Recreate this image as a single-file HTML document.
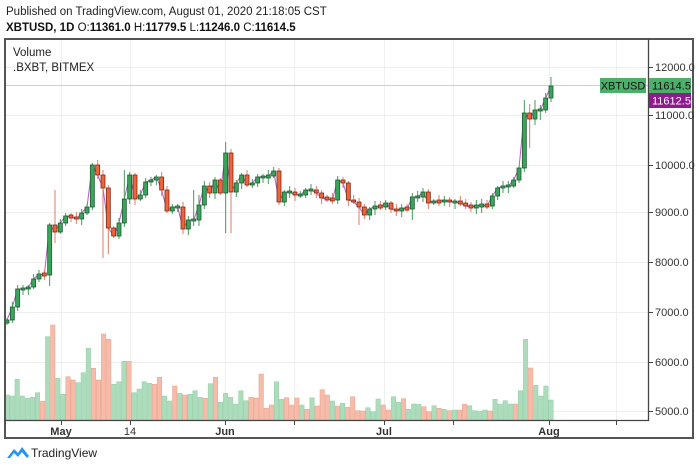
<!DOCTYPE html>
<html><head><meta charset="utf-8"><style>
html,body{margin:0;padding:0;background:#fff;}
body{width:700px;height:470px;overflow:hidden;font-family:"Liberation Sans",sans-serif;}
</style></head><body>
<svg id="s" width="700" height="470" xmlns="http://www.w3.org/2000/svg" font-family="Liberation Sans, sans-serif">
<text x="6" y="15" font-size="11.5" fill="#222">Published on TradingView.com, August 01, 2020 21:18:05 CST</text>
<text x="6" y="31" font-size="11.5" fill="#111" font-weight="bold">XBTUSD, 1D <tspan font-weight="normal">O:</tspan>11361.0 <tspan font-weight="normal">H:</tspan>11779.5 <tspan font-weight="normal">L:</tspan>11246.0 <tspan font-weight="normal">C:</tspan>11614.5</text>
<g id="grid" stroke="#efefef" stroke-width="1"></g>
<g id="vol"></g>
<line x1="6" y1="85.5" x2="648" y2="85.5" stroke="#b9dcc6" stroke-width="1"/>
<polyline id="pl" fill="none" stroke="#b45fc4" stroke-width="1"/>
<g id="cdl"></g>
<rect x="5" y="39" width="688" height="399" fill="none" stroke="#555" stroke-width="2"/>
<line x1="648.5" y1="39" x2="648.5" y2="421" stroke="#444" stroke-width="1.3"/>
<line x1="5" y1="420.5" x2="649" y2="420.5" stroke="#444" stroke-width="1.3"/>
<text x="13" y="56" font-size="11.5" fill="#222">Volume</text>
<text x="13" y="71" font-size="11.5" fill="#222">.BXBT, BITMEX</text>
<g id="ax" font-size="11" fill="#333"></g>
<rect x="600" y="78" width="46" height="15" fill="#4caf6a"/>
<text x="623" y="89.5" font-size="11" fill="#111" text-anchor="middle">XBTUSD</text>
<rect x="649" y="78" width="42" height="15" fill="#4caf6a"/>
<text x="652" y="89.5" font-size="11" fill="#111">11614.5</text>
<rect x="649" y="93" width="42" height="15" fill="#8e1b8e"/>
<text x="652" y="104.5" font-size="11" fill="#fff">11612.5</text>
<g transform="translate(7,444)">
<path d="M0 14 L7 5 L11 9 L15 3 L22 12 L20 14 L15 8 L11 13 L7 9 L3 14 Z" fill="#2196f3"/>
</g>
<text x="31" y="457" font-size="12" fill="#222">TradingView</text>
</svg>
<script>
(function(){
var NS="http://www.w3.org/2000/svg";
function el(p,t,a){var e=document.createElementNS(NS,t);for(var k in a)e.setAttribute(k,a[k]);document.getElementById(p).appendChild(e);return e;}
[67,115,165,212,262,312,362,411].forEach(function(y){el("grid","line",{x1:6,x2:648,y1:y+.5,y2:y+.5});});
[61,130,225,294,384,453,549,616].forEach(function(x){el("grid","line",{x1:x+.5,x2:x+.5,y1:40,y2:420});});
var pr=[["12000.0",67],["11000.0",115],["10000.0",165],["9000.0",212],["8000.0",262],["7000.0",312],["6000.0",362],["5000.0",411]];
pr.forEach(function(p){el("ax","line",{x1:649,x2:653,y1:p[1]+.5,y2:p[1]+.5,stroke:"#444"});var t=el("ax","text",{x:655,y:p[1]+4});t.textContent=p[0];});
[["May",61,1],["14",130,0],["Jun",225,1],["Jul",384,1],["Aug",549,1]].forEach(function(l){var t=el("ax","text",{x:l[1],y:435,"text-anchor":"middle","font-weight":l[2]?"bold":"normal"});t.textContent=l[0];});
[61,130,225,294,384,453,549,616].forEach(function(x){el("ax","line",{x1:x+.5,x2:x+.5,y1:421,y2:425,stroke:"#444"});});
var c=[320,307,289,289,287,279,274,275,225,232,223,216,217,219,213,207,165,175,188,228,236,223,199,175,199,195,182,180,177,190,211,207,207,229,220,220,205,186,193,180,193,153,192,183,175,185,183,177,177,176,171,202,192,192,195,
195,190,190,193,198,199,200,180,183,200,202,207,215,209,206,207,203,209,211,208,209,197,197,192,203,201,202,200,202,202,203,206,207,206,205,206,196,188,186,186,180,168,113,119,110,110,98,86];
var n=c.length,x0=7,dx=(551-7)/(n-1);
var big={8:[246,286],9:[190,243],18:[170,258],19:[205,254],35:[190,226],41:[142,233],42:[150,233],22:[170,226],36:[195,226],
 66:[205,225],76:[193,220],88:[200,214],97:[100,126],98:[104,148],99:[100,123],100:[105,120],101:[93,112],102:[77,95]};
var pts=[];
for(var i=0;i<n;i++){
 var x=x0+i*dx,cl=c[i],op=i?c[i-1]:323;
 if(i==42)op=153; if(i==98)op=113;
 var up=cl<=op,bt=Math.min(op,cl),bb=Math.max(op,cl);
 if(bb-bt<2){bt-=1;bb+=1;}
 var hh=bt-2-(i*7%4),ll=bb+2+(i*11%5);
 if(big[i]){hh=Math.min(hh,big[i][0]);ll=Math.max(ll,big[i][1]);}
 el("cdl","line",{x1:x,x2:x,y1:hh,y2:ll,stroke:up?"#4a9a5e":"#e07a6a","stroke-width":1});
 el("cdl","rect",{x:x-2,y:bt,width:4,height:bb-bt,fill:up?"#3aa35c":"#f0643c",stroke:up?"#1f5a30":"#7a2a14","stroke-width":0.8});
 pts.push(x.toFixed(1)+","+cl);
}
document.getElementById("pl").setAttribute("points",pts.join(" "));
var v="225 228 178 228 235 232 218 244r 50 15r 175 223 170r 180r 188 158 85 145r 180r 42r 58r 193 185 124 124r 218 207 185 190 193r 172r 228 243 198r 220 225r 223 212 232 235r 191 172r 247 220 232 252 212 242 232r 234r 162r 265r 255r 185 238 233r 255r 234r 255 268r 233 258r 209r 225r 243 258r 250 262r 230r 272r 273r 263 275 237 255r 270r 230 247 236r 268 252 253 260r 275r 257 265r 268 272r 270 270r 253r 257 272 274 270 273r 238 252 242 252 252r 212 58 144r 196 228 198 240".split(" ");
var m=v.length,vdx=(551-7)/(m-1);
for(var j=0;j<m;j++){var r=v[j].indexOf("r")>=0,zy=parseFloat(v[j]),yt=320+zy/3;
 el("vol","rect",{x:7+j*vdx-vdx/2+0.3,y:yt,width:vdx-0.6,height:420-yt,fill:r?"#f6bba9":"#acdcbc",stroke:r?"#eca08c":"#93cfa6","stroke-width":0.5});}
})();
</script>
</body></html>
